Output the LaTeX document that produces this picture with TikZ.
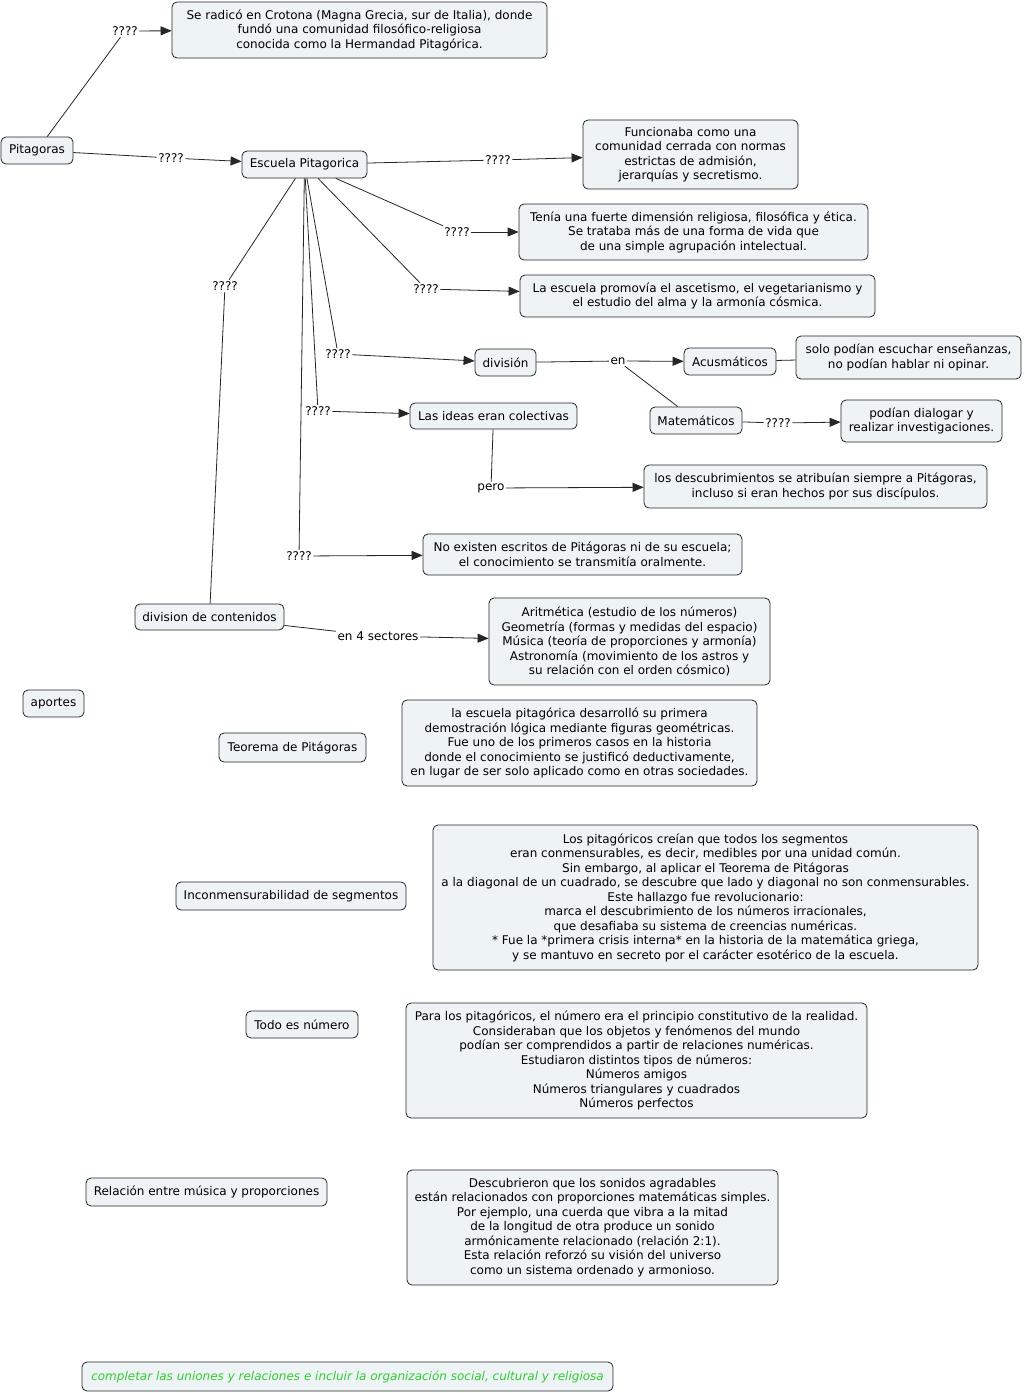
\documentclass[tikz,border=0pt]{standalone}
\usepackage{fontspec}
\setmainfont{DejaVu Sans}
\usetikzlibrary{arrows.meta}
\definecolor{boxfill}{HTML}{EEF3F5}
\definecolor{greentext}{HTML}{33CC33}
\begin{document}
\begin{tikzpicture}[x=1pt,y=-1pt,
  every node/.style={font=\fontsize{12}{14.5}\selectfont},
  cbox/.style={draw=black!85, fill=boxfill, rounded corners=5pt, align=center, inner sep=3pt, line width=0.8pt},
  lbl/.style={inner sep=1.5pt},
  conn/.style={draw=black!85, line width=0.8pt},
  arr/.style={conn, -{Triangle[length=11pt,width=9pt]}},
]
\useasboundingbox (0,0) rectangle (1024,1393);
\fill[white] (0,0) rectangle (1024,1393);

% concept boxes
\node[cbox, minimum width=72pt, minimum height=27pt] (pit) at (37,150.5) {Pitagoras};
\node[cbox, minimum width=375pt, minimum height=56pt] (crot) at (359.5,30) {Se radicó en Crotona (Magna Grecia, sur de Italia), donde\\ fundó una comunidad filosófico-religiosa\\ conocida como la Hermandad Pitagórica.};
\node[cbox, minimum width=125pt, minimum height=27pt] (esc) at (304.5,164.5) {Escuela Pitagorica};
\node[cbox, minimum width=215pt, minimum height=69pt] (func) at (690.5,154.5) {Funcionaba como una\\ comunidad cerrada con normas\\ estrictas de admisión,\\ jerarquías y secretismo.};
\node[cbox, minimum width=349pt, minimum height=56pt] (ten) at (693.5,232) {Tenía una fuerte dimensión religiosa, filosófica y ética.\\ Se trataba más de una forma de vida que\\ de una simple agrupación intelectual.};
\node[cbox, minimum width=355pt, minimum height=42pt] (prom) at (697.5,296) {La escuela promovía el ascetismo, el vegetarianismo y\\ el estudio del alma y la armonía cósmica.};
\node[cbox, minimum width=61pt, minimum height=27pt] (div) at (505.5,362.5) {división};
\node[cbox, minimum width=92pt, minimum height=27pt] (acu) at (730,361.5) {Acusmáticos};
\node[cbox, minimum width=225pt, minimum height=43pt] (solo) at (908.5,357.5) {solo podían escuchar enseñanzas,\\ no podían hablar ni opinar.};
\node[cbox, minimum width=92pt, minimum height=27pt] (mat) at (696,420.5) {Matemáticos};
\node[cbox, minimum width=161pt, minimum height=42pt] (dial) at (921.5,421) {podían dialogar y\\ realizar investigaciones.};
\node[cbox, minimum width=167pt, minimum height=26pt] (ideas) at (493.5,416) {Las ideas eran colectivas};
\node[cbox, minimum width=343pt, minimum height=43pt] (desc) at (815.5,486.5) {los descubrimientos se atribuían siempre a Pitágoras,\\ incluso si eran hechos por sus discípulos.};
\node[cbox, minimum width=319pt, minimum height=41pt] (noex) at (582.5,554.5) {No existen escritos de Pitágoras ni de su escuela;\\ el conocimiento se transmitía oralmente.};
\node[cbox, minimum width=149pt, minimum height=26pt] (divc) at (209.5,617) {division de contenidos};
\node[cbox, minimum width=281pt, minimum height=87pt] (arit) at (629.5,641.5) {Aritmética (estudio de los números)\\ Geometría (formas y medidas del espacio)\\ Música (teoría de proporciones y armonía)\\ Astronomía (movimiento de los astros y\\ su relación con el orden cósmico)};
\node[cbox, minimum width=61pt, minimum height=27pt] (apor) at (53.5,703.5) {aportes};
\node[cbox, minimum width=147pt, minimum height=29pt] (teo) at (292.5,747.5) {Teorema de Pitágoras};
\node[cbox, minimum width=355pt, minimum height=86pt] (dem) at (579.5,743) {la escuela pitagórica desarrolló su primera\\ demostración lógica mediante figuras geométricas.\\ Fue uno de los primeros casos en la historia\\ donde el conocimiento se justificó deductivamente,\\ en lugar de ser solo aplicado como en otras sociedades.};
\node[cbox, minimum width=230pt, minimum height=28pt] (inc) at (291,896) {Inconmensurabilidad de segmentos};
\node[cbox, minimum width=545pt, minimum height=145pt] (lospit) at (705.5,897.5) {Los pitagóricos creían que todos los segmentos\\ eran conmensurables, es decir, medibles por una unidad común.\\ Sin embargo, al aplicar el Teorema de Pitágoras\\ a la diagonal de un cuadrado, se descubre que lado y diagonal no son conmensurables.\\ Este hallazgo fue revolucionario:\\ marca el descubrimiento de los números irracionales,\\ que desafiaba su sistema de creencias numéricas.\\ * Fue la *primera crisis interna* en la historia de la matemática griega,\\ y se mantuvo en secreto por el carácter esotérico de la escuela.};
\node[cbox, minimum width=112pt, minimum height=27pt] (todo) at (302,1024.5) {Todo es número};
\node[cbox, minimum width=461pt, minimum height=115pt] (para) at (636.5,1060.5) {Para los pitagóricos, el número era el principio constitutivo de la realidad.\\ Consideraban que los objetos y fenómenos del mundo\\ podían ser comprendidos a partir de relaciones numéricas.\\ Estudiaron distintos tipos de números:\\ Números amigos\\ Números triangulares y cuadrados\\ Números perfectos};
\node[cbox, minimum width=241pt, minimum height=28pt] (rel) at (206.5,1192) {Relación entre música y proporciones};
\node[cbox, minimum width=371pt, minimum height=115pt] (son) at (592.5,1227.5) {Descubrieron que los sonidos agradables\\ están relacionados con proporciones matemáticas simples.\\ Por ejemplo, una cuerda que vibra a la mitad\\ de la longitud de otra produce un sonido\\ armónicamente relacionado (relación 2:1).\\ Esta relación reforzó su visión del universo\\ como un sistema ordenado y armonioso.};
\node[cbox, minimum width=531pt, minimum height=29pt, text=greentext, font=\fontsize{12}{14.5}\selectfont\itshape] (comp) at (347.5,1376.5) {completar las uniones y relaciones e incluir la organización social, cultural y religiosa};

% link labels
\node[lbl] (l1) at (125,31) {????};
\node[lbl] (l2) at (171,158) {????};
\node[lbl] (l3) at (498,160) {????};
\node[lbl] (l4) at (457,232) {????};
\node[lbl] (l5) at (426,289) {????};
\node[lbl] (l6) at (338,354) {????};
\node[lbl] (l7) at (318,411) {????};
\node[lbl] (l8) at (299,556) {????};
\node[lbl] (l9) at (225,286) {????};
\node[lbl] (len) at (618,361) {en};
\node[lbl] (l10) at (778,423) {????};
\node[lbl] (lpero) at (491,488) {pero};
\node[lbl] (l4s) at (378,636) {en 4 sectores};

% connectors
\draw[conn] (pit) -- (l1);  \draw[arr] (l1) -- (crot);
\draw[conn] (pit) -- (l2);  \draw[arr] (l2) -- (esc);
\draw[conn] (esc) -- (l3);  \draw[arr] (l3) -- (func);
\draw[conn] (esc) -- (l4);  \draw[arr] (l4) -- (ten);
\draw[conn] (esc) -- (l5);  \draw[arr] (l5) -- (prom);
\draw[conn] (esc) -- (l6);  \draw[arr] (l6) -- (div);
\draw[conn] (esc) -- (l7);  \draw[arr] (l7) -- (ideas);
\draw[conn] (esc) -- (l8);  \draw[arr] (l8) -- (noex);
\draw[conn] (esc) -- (l9);  \draw[conn] (l9) -- (divc);
\draw[conn] (div) -- (len); \draw[arr] (len) -- (acu);
\draw[conn] (len) -- (mat);
\draw[conn] (acu) -- (solo);
\draw[conn] (mat) -- (l10); \draw[arr] (l10) -- (dial);
\draw[conn] (ideas) -- (lpero); \draw[arr] (lpero) -- (desc);
\draw[conn] (divc) -- (l4s); \draw[arr] (l4s) -- (arit);
\end{tikzpicture}
\end{document}
